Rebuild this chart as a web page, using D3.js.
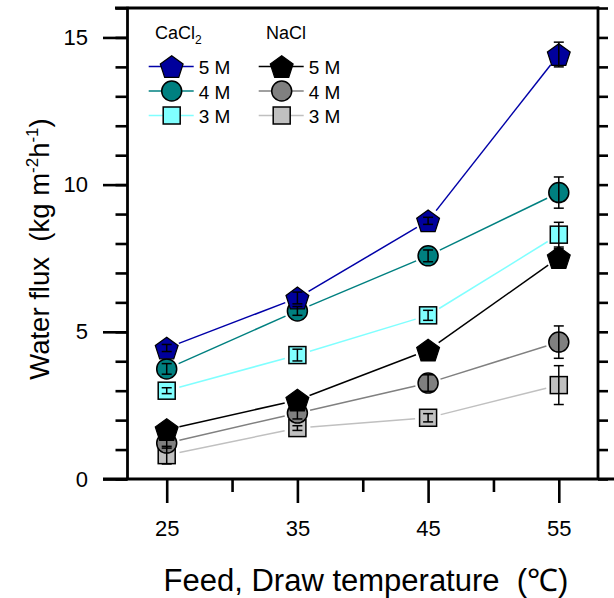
<!DOCTYPE html>
<html>
<head>
<meta charset="utf-8">
<script src="https://cdn.jsdelivr.net/npm/d3@7"></script>
<style>
  body { margin: 0; background: #fff; }
  svg text { font-family: "Liberation Sans", Arial, sans-serif; fill: #000; }
</style>
</head>
<body>
<script>
(function(){
'use strict';

var temps = [25, 35, 45, 55];

var cacl5 = [4.45, 6.15, 8.77, 14.42];
var cacl5Err = [0.12, 0.2, 0.12, 0.42];
var cacl4 = [3.74, 5.71, 7.58, 9.73];
var cacl4Err = [0.18, 0.15, 0.2, 0.53];
var cacl3 = [3.0, 4.21, 5.56, 8.3];
var cacl3Err = [0.1, 0.2, 0.17, 0.42];
var nacl5 = [1.68, 2.68, 4.38, 7.52];
var nacl5Err = [0.1, 0.15, 0.12, 0.3];
var nacl4 = [1.22, 2.24, 3.26, 4.65];
var nacl4Err = [0.17, 0.2, 0.28, 0.55];
var nacl3 = [0.81, 1.73, 2.08, 3.19];
var nacl3Err = [0.3, 0.08, 0.14, 0.66];

var yMajor = [0, 5, 10, 15];
var xMajor = [25, 35, 45, 55];
var xMinor = [30, 40, 50];

var width = 614;
var height = 598;

var left = 127.5, right = 598, top = 8, bottom = 479;

var x = d3.scaleLinear().domain([22, 58]).range([left, right]);
var y = d3.scaleLinear().domain([0, 16]).range([bottom, top]);

var svg = d3.select('body').append('svg')
            .attr('width', width)
            .attr('height', height);

// pentagon symbol, centred on its bounding box
var pentagon = {
  draw: function(ctx, size){
    var R = Math.sqrt(size);
    var dy = 0.0955 * R;
    for(var k=0; k<5; k++){
      var a = -Math.PI/2 + k * 2*Math.PI/5;
      var px = R*Math.cos(a), py = R*Math.sin(a) + dy;
      if(k === 0) ctx.moveTo(px, py); else ctx.lineTo(px, py);
    }
    ctx.closePath();
  }
};

var series = [
  {vals: cacl5, err: cacl5Err, shape: 'pent', fill: '#00009c', line: '#0000a8'},
  {vals: cacl4, err: cacl4Err, shape: 'circle', fill: '#008080', line: '#008080'},
  {vals: cacl3, err: cacl3Err, shape: 'square', fill: '#80ffff', line: '#80ffff'},
  {vals: nacl5, err: nacl5Err, shape: 'pent', fill: '#000000', line: '#000000'},
  {vals: nacl4, err: nacl4Err, shape: 'circle', fill: '#808080', line: '#808080'},
  {vals: nacl3, err: nacl3Err, shape: 'square', fill: '#c0c0c0', line: '#c0c0c0'}
];

function drawMarker(g, shape, fill, cx, cy){
  if(shape === 'circle'){
    g.append('circle').attr('cx', cx).attr('cy', cy).attr('r', 10)
      .attr('fill', fill).attr('stroke', '#000').attr('stroke-width', 1.5);
  } else if(shape === 'square'){
    g.append('rect').attr('x', cx - 8.5).attr('y', cy - 8.5)
      .attr('width', 17).attr('height', 17)
      .attr('fill', fill).attr('stroke', '#000').attr('stroke-width', 1.5);
  } else {
    g.append('path').attr('transform', 'translate(' + cx + ',' + cy + ')')
      .attr('d', d3.symbol().type(pentagon).size(144)())
      .attr('fill', fill).attr('stroke', '#000').attr('stroke-width', 1.2);
  }
}

// axis lines / ticks
var axisG = svg.append('g');

var yMinorAxis = d3.axisLeft(y).tickValues(d3.range(0, 17)).tickSize(12).tickFormat('').tickSizeOuter(0);
var yMajorAxis = d3.axisLeft(y).tickValues(yMajor).tickSize(24.5).tickPadding(15).tickSizeOuter(0);
var yRightAxis = d3.axisRight(y).tickValues(d3.range(0, 17)).tickSize(10).tickFormat('').tickSizeOuter(0);
var xMinorAxis = d3.axisBottom(x).tickValues(xMinor).tickSize(13).tickFormat('').tickSizeOuter(0);
var xMajorAxis = d3.axisBottom(x).tickValues(xMajor).tickSize(24).tickPadding(17).tickSizeOuter(0);

axisG.append('g').attr('transform', 'translate(' + left + ',0)').call(yMinorAxis);
axisG.append('g').attr('transform', 'translate(' + left + ',0)').call(yMajorAxis);
axisG.append('g').attr('transform', 'translate(' + right + ',0)').call(yRightAxis);
axisG.append('g').attr('transform', 'translate(0,' + bottom + ')').call(xMinorAxis);
axisG.append('g').attr('transform', 'translate(0,' + bottom + ')').call(xMajorAxis);

axisG.selectAll('.domain').remove();
axisG.selectAll('.tick line').attr('stroke', '#000').attr('stroke-width', 2.6);
axisG.selectAll('.tick text').attr('font-size', 22).attr('fill', '#000')
     .style('font-family', '"Liberation Sans", Arial, sans-serif');

// frame
axisG.append('line').attr('x1', left).attr('x2', left).attr('y1', top - 1.3).attr('y2', bottom)
     .attr('stroke', '#000').attr('stroke-width', 2.8);
axisG.append('line').attr('x1', right).attr('x2', right).attr('y1', top - 1.3).attr('y2', bottom)
     .attr('stroke', '#000').attr('stroke-width', 2.8);
axisG.append('line').attr('x1', 103).attr('x2', width).attr('y1', bottom).attr('y2', bottom)
     .attr('stroke', '#000').attr('stroke-width', 2.8);
axisG.append('line').attr('x1', 115).attr('x2', right + 1.3).attr('y1', top).attr('y2', top)
     .attr('stroke', '#000').attr('stroke-width', 2.8);

// connecting lines with gaps at the markers
var lineG = svg.append('g');
var gap = 13;
series.forEach(function(s){
  for(var i=0; i<temps.length - 1; i++){
    var x1 = x(temps[i]), y1 = y(s.vals[i]);
    var x2 = x(temps[i+1]), y2 = y(s.vals[i+1]);
    var len = Math.sqrt((x2-x1)*(x2-x1) + (y2-y1)*(y2-y1));
    var ux = (x2-x1)/len, uy = (y2-y1)/len;
    lineG.append('line')
      .attr('x1', x1 + ux*gap).attr('y1', y1 + uy*gap)
      .attr('x2', x2 - ux*gap).attr('y2', y2 - uy*gap)
      .attr('stroke', s.line).attr('stroke-width', 1.5);
  }
});

// markers, drawn bottom series first
var markG = svg.append('g');
series.slice().reverse().forEach(function(s){
  temps.forEach(function(t, i){
    drawMarker(markG, s.shape, s.fill, x(t), y(s.vals[i]));
  });
});

// error bars on top
var errG = svg.append('g').attr('stroke', '#000').attr('stroke-width', 1.5);
series.forEach(function(s){
  temps.forEach(function(t, i){
    var cx = x(t);
    var lo = y(s.vals[i] - s.err[i]), hi = y(s.vals[i] + s.err[i]);
    errG.append('line').attr('x1', cx).attr('x2', cx).attr('y1', lo).attr('y2', hi);
    errG.append('line').attr('x1', cx - 5).attr('x2', cx + 5).attr('y1', lo).attr('y2', lo);
    errG.append('line').attr('x1', cx - 5).attr('x2', cx + 5).attr('y1', hi).attr('y2', hi);
  });
});

// legend
var leg = svg.append('g');
var heads = [{label: 'CaCl', sub: '2', x: 155}, {label: 'NaCl', sub: '', x: 266}];
heads.forEach(function(h){
  var t = leg.append('text').attr('x', h.x).attr('y', 39).attr('font-size', 18);
  t.append('tspan').text(h.label);
  if(h.sub) t.append('tspan').attr('font-size', 12).attr('dy', 5).text(h.sub);
});
var legLabels = ['5 M', '4 M', '3 M'];
var legRows = [66.5, 91, 115.5];
series.forEach(function(s, i){
  var col = i < 3 ? 0 : 1;
  var row = i % 3;
  var cx = col === 0 ? 171.7 : 281.7;
  var cy = legRows[row];
  leg.append('line').attr('x1', cx - 23).attr('x2', cx + 22).attr('y1', cy).attr('y2', cy)
     .attr('stroke', s.line).attr('stroke-width', 1.5);
  drawMarker(leg, s.shape, s.fill, cx, cy);
  leg.append('text').attr('x', cx + 27).attr('y', cy + 7.5).attr('font-size', 19).text(legLabels[row]);
});

// axis titles
var yt = svg.append('text')
  .attr('transform', 'translate(49,' + 249 + ') rotate(-90)')
  .attr('text-anchor', 'middle').attr('font-size', 27.5);
yt.append('tspan').text('Water flux\u00a0\u00a0(kg m');
yt.append('tspan').attr('font-size', 17).attr('dy', -11).text('-2');
yt.append('tspan').attr('dy', 11).text('h');
yt.append('tspan').attr('font-size', 17).attr('dy', -11).text('-1');
yt.append('tspan').attr('dy', 11).text(')');

svg.append('text').attr('x', 366).attr('y', 591).attr('text-anchor', 'middle')
   .attr('font-size', 31).text('Feed, Draw temperature\u00a0\u00a0(\u2103)');

})();
</script>
</body>
</html>
